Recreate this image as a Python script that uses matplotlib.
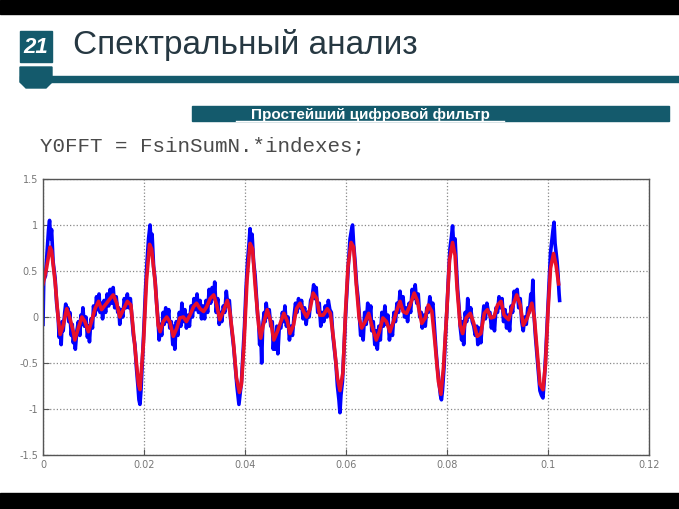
import matplotlib
matplotlib.use("Agg")
import matplotlib.pyplot as plt
from matplotlib.patches import Rectangle, Polygon

# smoothed (red) signal, t in ms
red_t = [0.0, 0.7, 1.4, 1.7, 2.4, 3.0, 3.4, 4.0, 4.7, 5.3, 6.0, 6.3, 7.0, 7.7, 8.3, 9.0, 9.6, 10.3,
         11.0, 11.6, 12.3, 13.3, 13.9, 14.6, 15.2, 15.9, 16.7, 17.4, 17.9, 18.4, 18.9, 19.2, 19.9,
         20.5, 21.1, 21.5, 22.2, 22.8, 23.2, 23.8, 24.5, 25.1, 25.8, 26.5, 27.1, 27.8, 28.4, 29.1,
         29.8, 30.4, 31.1, 31.8, 32.4, 33.1, 33.8, 34.4, 35.0, 35.7, 36.5, 37.0, 37.7, 38.3, 38.9,
         39.3, 39.8, 40.4, 41.0, 41.5, 42.0, 42.7, 43.1, 43.6, 44.4, 45.1, 45.7, 46.4, 47.1, 47.7,
         48.4, 48.9, 49.6, 50.2, 50.9, 51.6, 52.2, 52.9, 53.5, 54.2, 54.8, 55.5, 56.3, 56.9, 57.6,
         58.3, 58.8, 59.4, 59.9, 60.4, 61.0, 61.5, 62.0, 62.6, 63.1, 63.8, 64.5, 65.1, 66.0, 66.6,
         67.3, 68.0, 68.7, 69.4, 70.0, 70.7, 71.3, 72.0, 72.7, 73.5, 74.1, 75.0, 75.7, 76.3, 77.0,
         77.6, 78.3, 78.8, 79.3, 79.9, 80.5, 81.1, 81.6, 82.0, 82.6, 83.1, 83.8, 84.6, 85.2, 86.0,
         86.7, 87.4, 88.0, 88.7, 89.3, 90.0, 90.7, 91.3, 92.2, 92.8, 93.8, 94.5, 95.1, 95.9, 96.8,
         97.3, 97.9, 98.4, 99.0, 99.5, 100.0, 100.5, 101.1, 101.6, 102.1]
red_y = [0.36, 0.53, 0.76, 0.72, 0.38, -0.01, -0.19, -0.09, 0.09, -0.01, -0.16, -0.25, -0.12, 0.0,
         -0.05, -0.16, -0.05, 0.09, 0.17, 0.08, 0.13, 0.2, 0.24, 0.15, 0.0, 0.08, 0.17, 0.13, -0.16,
         -0.45, -0.73, -0.79, -0.28, 0.4, 0.79, 0.74, 0.38, -0.09, -0.16, -0.05, 0.0, -0.05, -0.21,
         -0.12, -0.01, 0.0, -0.05, 0.02, 0.11, 0.15, 0.09, 0.06, 0.11, 0.2, 0.24, 0.13, -0.03, 0.06,
         0.18, 0.06, -0.27, -0.66, -0.82, -0.73, -0.3, 0.4, 0.8, 0.74, 0.35, -0.09, -0.23, -0.09,
         0.08, -0.05, -0.25, -0.16, -0.05, 0.04, -0.05, -0.18, -0.09, 0.09, 0.15, 0.06, 0.0, 0.09,
         0.26, 0.2, 0.02, 0.02, 0.09, 0.04, -0.27, -0.66, -0.8, -0.6, 0.05, 0.55, 0.81, 0.76, 0.38,
         -0.01, -0.12, -0.05, 0.04, -0.09, -0.25, -0.16, -0.01, -0.05, -0.16, -0.05, 0.06, 0.17,
         0.06, 0.04, 0.13, 0.26, 0.18, -0.07, -0.01, 0.13, 0.06, -0.27, -0.7, -0.84, -0.55, 0.0,
         0.62, 0.81, 0.67, 0.31, -0.09, -0.18, -0.01, 0.04, -0.05, -0.21, -0.18, 0.04, 0.08, -0.01,
         0.0, 0.13, 0.17, 0.02, -0.03, 0.09, 0.24, 0.13, -0.09, -0.01, 0.15, -0.01, -0.41, -0.73,
         -0.79, -0.52, 0.06, 0.53, 0.69, 0.56, 0.36]

# noisy (blue) signal, t in ms
blue_t = [0.0, 0.15, 0.5, 0.8, 1.1, 1.3, 1.5, 1.7, 2.0, 2.4, 2.7, 3.0, 3.2, 3.4, 3.6, 3.8, 4.0, 4.3,
          4.5, 4.7, 4.9, 5.1, 5.3, 5.6, 5.8, 6.0, 6.2, 6.4, 6.7, 7.0, 7.3, 7.5, 7.7, 7.9, 8.2, 8.5,
          8.8, 9.0, 9.2, 9.5, 9.8, 10.0, 10.3, 10.6, 10.8, 11.1, 11.3, 11.6, 11.8, 12.1, 12.4, 12.7,
          13.0, 13.3, 13.6, 13.9, 14.2, 14.5, 14.8, 15.0, 15.2, 15.5, 15.8, 16.1, 16.4, 16.7, 17.0,
          17.3, 17.6, 17.9, 18.2, 18.5, 18.8, 19.0, 19.2, 19.4, 19.7, 20.0, 20.3, 20.6, 20.9, 21.2,
          21.4, 21.6, 21.9, 22.2, 22.5, 22.8, 23.0, 23.3, 23.5, 23.8, 24.0, 24.3, 24.6, 24.9, 25.1,
          25.4, 25.7, 25.9, 26.1, 26.4, 26.7, 27.0, 27.3, 27.5, 27.8, 28.1, 28.4, 28.7, 29.0, 29.3,
          29.6, 29.9, 30.2, 30.5, 30.8, 31.1, 31.4, 31.7, 32.0, 32.3, 32.6, 32.9, 33.2, 33.5, 33.8,
          34.0, 34.3, 34.6, 34.9, 35.2, 35.4, 35.7, 36.0, 36.3, 36.6, 36.9, 37.2, 37.5, 37.8, 38.1,
          38.4, 38.6, 38.8, 39.0, 39.3, 39.6, 39.9, 40.2, 40.5, 40.8, 41.0, 41.2, 41.4, 41.7, 42.0,
          42.3, 42.5, 42.7, 42.9, 43.1, 43.3, 43.5, 43.8, 44.0, 44.2, 44.5, 44.8, 45.1, 45.4, 45.6,
          45.8, 46.0, 46.3, 46.5, 46.8, 47.1, 47.4, 47.7, 47.9, 48.2, 48.5, 48.8, 49.1, 49.4, 49.7,
          50.0, 50.3, 50.6, 50.9, 51.2, 51.5, 51.8, 52.1, 52.4, 52.7, 53.0, 53.3, 53.6, 53.8, 54.1,
          54.4, 54.7, 55.0, 55.3, 55.6, 55.9, 56.2, 56.5, 56.8, 57.1, 57.4, 57.7, 58.0, 58.3, 58.6,
          58.8, 59.0, 59.3, 59.6, 59.9, 60.2, 60.5, 60.8, 61.1, 61.3, 61.5, 61.8, 62.1, 62.4, 62.6,
          62.9, 63.2, 63.4, 63.7, 64.0, 64.3, 64.6, 64.9, 65.1, 65.4, 65.7, 66.0, 66.2, 66.5, 66.8,
          67.1, 67.4, 67.7, 68.0, 68.3, 68.6, 68.9, 69.2, 69.5, 69.8, 70.1, 70.4, 70.7, 71.0, 71.3,
          71.6, 71.9, 72.2, 72.5, 72.8, 73.1, 73.4, 73.7, 74.0, 74.3, 74.6, 74.9, 75.1, 75.4, 75.7,
          76.0, 76.3, 76.6, 76.9, 77.2, 77.5, 77.8, 78.1, 78.4, 78.7, 78.9, 79.1, 79.4, 79.7, 80.0,
          80.3, 80.6, 80.9, 81.1, 81.3, 81.6, 81.9, 82.1, 82.4, 82.6, 82.9, 83.1, 83.3, 83.6, 83.9,
          84.1, 84.4, 84.7, 85.0, 85.3, 85.6, 85.9, 86.1, 86.4, 86.7, 87.0, 87.3, 87.6, 87.9, 88.2,
          88.5, 88.8, 89.1, 89.4, 89.7, 90.0, 90.3, 90.6, 90.9, 91.2, 91.5, 91.8, 92.1, 92.4, 92.7,
          93.0, 93.3, 93.6, 93.9, 94.2, 94.5, 94.8, 95.1, 95.4, 95.7, 96.0, 96.3, 96.6, 96.8, 97.0,
          97.2, 97.5, 97.8, 98.1, 98.4, 98.7, 99.0, 99.3, 99.6, 99.9, 100.2, 100.5, 100.8, 101.0,
          101.2, 101.4, 101.6, 101.8, 102.0, 102.2, 102.3]
blue_y = [-0.08, 0.4, 0.45, 0.7, 0.95, 1.05, 0.85, 0.95, 0.6, 0.42, 0.15, 0.0, -0.22, -0.12, -0.3,
          -0.05, -0.15, 0.05, 0.14, 0.02, 0.1, -0.05, 0.05, -0.2, -0.08, -0.28, -0.18, -0.35, -0.15,
          -0.05, -0.2, 0.02, -0.08, 0.1, -0.1, 0.0, -0.22, -0.1, -0.27, -0.02, -0.12, 0.12, 0.02,
          0.22, 0.08, 0.25, 0.05, 0.15, -0.02, 0.18, 0.05, 0.25, 0.12, 0.3, 0.15, 0.32, 0.1, 0.22,
          0.05, 0.1, -0.08, 0.08, 0.0, 0.2, 0.1, 0.25, 0.1, 0.2, 0.0, -0.2, -0.3, -0.55, -0.75, -0.9,
          -0.95, -0.8, -0.45, -0.1, 0.3, 0.6, 0.85, 1.0, 0.8, 0.9, 0.55, 0.4, 0.15, -0.05, -0.25,
          -0.08, -0.2, 0.05, -0.08, 0.1, -0.05, 0.08, -0.12, -0.05, -0.3, -0.1, -0.35, -0.05, -0.2,
          0.05, -0.1, 0.15, -0.05, 0.08, -0.12, 0.02, -0.1, 0.12, 0.0, 0.2, 0.08, 0.25, 0.05, 0.18,
          -0.02, 0.12, -0.02, 0.18, 0.05, 0.3, 0.15, 0.32, 0.2, 0.38, 0.05, 0.2, -0.08, 0.05, -0.05,
          0.12, 0.05, 0.28, 0.12, 0.18, -0.05, -0.2, -0.35, -0.55, -0.75, -0.85, -0.95, -0.85, -0.7,
          -0.4, -0.1, 0.3, 0.6, 0.8, 0.96, 0.75, 0.9, 0.6, 0.45, 0.2, 0.02, -0.05, -0.3, -0.15, -0.5,
          -0.1, 0.05, -0.05, 0.15, 0.0, 0.08, -0.1, -0.05, -0.35, -0.2, -0.35, -0.1, -0.4, -0.1,
          -0.12, 0.05, -0.05, 0.12, -0.1, 0.0, -0.25, -0.1, -0.2, 0.0, 0.15, 0.05, 0.2, 0.1, 0.18,
          -0.02, 0.1, -0.08, 0.05, 0.0, 0.18, 0.22, 0.35, 0.2, 0.32, 0.05, 0.15, -0.1, 0.05, -0.05,
          0.12, 0.0, 0.18, 0.08, 0.05, -0.2, -0.35, -0.5, -0.75, -0.9, -1.04, -0.85, -0.7, -0.35, 0.0,
          0.3, 0.6, 0.85, 0.95, 1.0, 0.8, 0.6, 0.35, 0.2, 0.05, -0.2, -0.1, -0.25, 0.05, -0.08, 0.15,
          -0.02, 0.12, -0.15, -0.05, -0.3, -0.15, -0.35, -0.1, -0.25, 0.05, -0.1, 0.12, -0.08, 0.02,
          -0.25, -0.1, -0.2, 0.05, -0.05, 0.15, 0.05, 0.28, 0.1, 0.22, 0.0, 0.1, -0.05, 0.15, 0.05,
          0.3, 0.2, 0.35, 0.15, 0.25, 0.0, 0.05, -0.12, 0.02, -0.1, 0.1, 0.05, 0.22, 0.1, 0.15, -0.1,
          -0.35, -0.55, -0.7, -0.85, -0.9, -0.8, -0.55, -0.2, 0.1, 0.45, 0.75, 0.88, 0.99, 0.8, 0.85,
          0.5, 0.3, 0.1, -0.1, -0.25, -0.05, -0.3, 0.05, -0.05, 0.2, 0.0, 0.1, -0.05, -0.1, -0.2,
          -0.1, -0.3, -0.12, -0.28, -0.05, 0.12, -0.02, 0.15, 0.05, 0.05, -0.12, 0.0, -0.15, 0.1,
          0.05, 0.22, 0.1, 0.2, -0.05, 0.08, -0.12, 0.02, -0.15, 0.12, 0.05, 0.28, 0.2, 0.3, 0.1,
          0.2, -0.05, -0.15, 0.0, -0.08, 0.1, 0.05, 0.25, 0.15, 0.4, 0.05, -0.2, -0.4, -0.6, -0.8,
          -0.85, -0.88, -0.65, -0.35, 0.0, 0.35, 0.7, 0.85, 0.95, 1.03, 0.8, 0.7, 0.6, 0.45, 0.25,
          0.18]

x_ticks = [0, 0.02, 0.04, 0.06, 0.08, 0.1, 0.12]
x_labels = ["0", "0.02", "0.04", "0.06", "0.08", "0.1", "0.12"]
y_ticks = [-1.5, -1, -0.5, 0, 0.5, 1, 1.5]
y_labels = ["-1.5", "-1", "-0.5", "0", "0.5", "1", "1.5"]

teal = "#145a6c"
W, H = 679, 509

fig = plt.figure(figsize=(W / 100, H / 100), dpi=100)
fig.patch.set_facecolor("white")

# slide decoration, in pixel coordinates
bg = fig.add_axes([0, 0, 1, 1])
bg.set_xlim(0, W)
bg.set_ylim(H, 0)
bg.axis("off")
bg.add_patch(Rectangle((0, 0), W, 14, color="black"))
bg.add_patch(Rectangle((0, 493), W, 16, color="black"))
bg.add_patch(Rectangle((20, 31), 32, 31, color=teal))
bg.text(36, 47, "21", color="white", fontsize=16, fontweight="bold", style="italic",
        ha="center", va="center", family="Liberation Sans")
bg.add_patch(Rectangle((20, 76), W - 20, 6, color=teal))
bg.add_patch(Polygon([(20, 67), (52, 67), (52, 82), (46, 88), (26, 88), (20, 82)], color=teal))
bg.text(73, 45, "Спектральный анализ", color="#263842", fontsize=24,
        ha="left", va="center", family="Liberation Sans")
bg.add_patch(Rectangle((192, 106), 477, 15, color=teal))
bg.text(370, 115, "Простейший цифровой фильтр", color="white", fontsize=11,
        fontweight="bold", ha="center", va="center", family="Liberation Sans")
bg.plot([236, 504], [121, 121], color="white", lw=1)
bg.text(40, 146, "Y0FFT = FsinSumN.*indexes;", color="#4a4a4a", fontsize=15,
        ha="left", va="center", family="Liberation Mono")

# the MATLAB plot
ax = fig.add_axes([43 / W, (H - 455) / H, 606 / W, 276 / H])
ax.plot([t / 1000 for t in blue_t], blue_y, color="#0000ff", lw=2.6)
ax.plot([t / 1000 for t in red_t], red_y, color="#e8102a", lw=2.6)
ax.set_xlim(0, 0.12)
ax.set_ylim(-1.5, 1.5)
ax.set_xticks(x_ticks)
ax.set_xticklabels(x_labels)
ax.set_yticks(y_ticks)
ax.set_yticklabels(y_labels)
ax.grid(True, linestyle=":", color="#888888", lw=0.9)
ax.tick_params(direction="in", labelsize=7, labelcolor="#777777", color="#555555", length=4)
for s in ax.spines.values():
    s.set_color("#555555")
    s.set_linewidth(1.0)

fig.savefig("out.png", dpi=100)
